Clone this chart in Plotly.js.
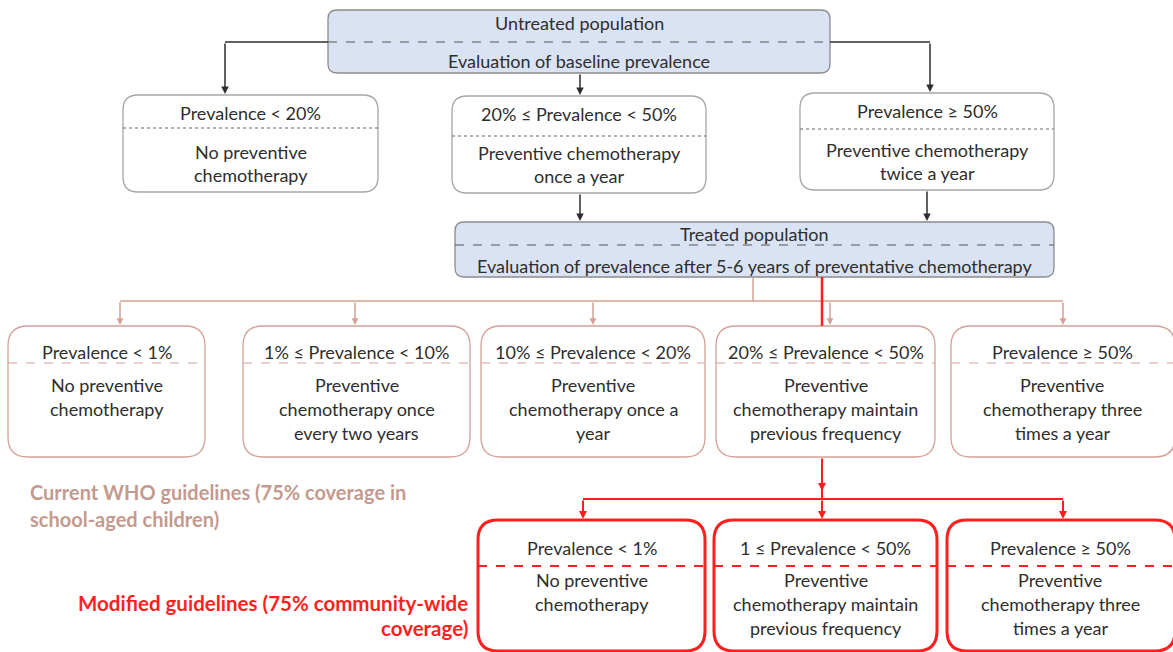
<!DOCTYPE html>
<html>
<head>
<meta charset="utf-8">
<script src="https://cdn.plot.ly/plotly-3.0.1.min.js"></script>
<style>html,body{margin:0;padding:0;background:#fff;}#chart{width:1173px;height:652px;}</style>
</head>
<body>
<div id="chart"></div>
<script>
// ---- content ----
const populationHeaders = ["Untreated population", "Treated population"];
const populationBodies = ["Evaluation of baseline prevalence", "Evaluation of prevalence after 5-6 years of preventative chemotherapy"];
const baselineHeaders = ["Prevalence < 20%", "20% ≤ Prevalence < 50%", "Prevalence ≥ 50%"];
const baselineActions = ["No preventive\nchemotherapy", "Preventive chemotherapy\nonce a year", "Preventive chemotherapy\ntwice a year"];
const whoHeaders = ["Prevalence < 1%", "1% ≤ Prevalence < 10%", "10% ≤ Prevalence < 20%", "20% ≤ Prevalence < 50%", "Prevalence ≥ 50%"];
const whoActions = ["No preventive\nchemotherapy", "Preventive\nchemotherapy once\nevery two years", "Preventive\nchemotherapy once a\nyear", "Preventive\nchemotherapy maintain\nprevious frequency", "Preventive\nchemotherapy three\ntimes a year"];
const modifiedHeaders = ["Prevalence < 1%", "1 ≤ Prevalence < 50%", "Prevalence ≥ 50%"];
const modifiedActions = ["No preventive\nchemotherapy", "Preventive\nchemotherapy maintain\nprevious frequency", "Preventive\nchemotherapy three\ntimes a year"];
const guidelineLabels = ["Current WHO guidelines (75% coverage in\nschool-aged children)", "Modified guidelines (75% community-wide\ncoverage)"];

// ---- geometry (layout only) ----
const FONT = "Lato, 'Open Sans', sans-serif";
const FS = 18;
const DARK = "#2e2e2e", GREY = "#8c8c8c", BLUE = "#dae3f3", ROSE = "#d4a196", ROSE_T = "#c49a8f", RED = "#ff1f1f";

const popGeom = [
  {x0:328,x1:830,y0:10,y1:73,sep:42,hy:23,by:61},
  {x0:455,x1:1054,y0:222,y1:277,sep:245,hy:234,by:266}
];
const baseGeom = [
  {x0:123,x1:378,y0:95,y1:192,sep:128,hy:113,by:152},
  {x0:452,x1:706,y0:96,y1:193,sep:136,hy:114,by:153},
  {x0:800,x1:1054,y0:93,y1:190,sep:129,hy:111,by:150}
];
const whoX = [[8,205],[243,470],[481,705],[716,935],[951,1175]];
const modX = [[478,705],[714,937],[947,1175]];

const shapes = [], annotations = [];

function rrect(x0,y0,x1,y1,r,line,fill){
  const p = `M${x0+r},${y0} L${x1-r},${y0} Q${x1},${y0} ${x1},${y0+r} L${x1},${y1-r} Q${x1},${y1} ${x1-r},${y1} L${x0+r},${y1} Q${x0},${y1} ${x0},${y1-r} L${x0},${y0+r} Q${x0},${y0} ${x0+r},${y0} Z`;
  shapes.push({type:'path',path:p,xref:'x',yref:'y',line:line,fillcolor:fill||'rgba(0,0,0,0)',layer:'below'});
}
function seg(x0,y0,x1,y1,color,w,dash){
  shapes.push({type:'line',xref:'x',yref:'y',x0:x0,y0:y0,x1:x1,y1:y1,line:{color:color,width:w,dash:dash||'solid'}});
}
function arrow(ax,ay,x,y,color,w,size){
  annotations.push({x:x,y:y,ax:ax,ay:ay,xref:'x',yref:'y',axref:'x',ayref:'y',text:'',showarrow:true,
    arrowhead:2,arrowsize:size||1,arrowwidth:w,arrowcolor:color,standoff:0,startstandoff:0});
}
function txt(x,y,s,opt){
  opt = opt||{};
  annotations.push({x:x,y:y,xref:'x',yref:'y',text:s,showarrow:false,xanchor:opt.xa||'center',yanchor:'middle',
    font:{family:FONT,size:opt.size||FS,color:opt.color||DARK}});
}
function lines(x,y,s,step,opt){
  s.split('\n').forEach((l,i)=>txt(x,y+i*step,opt&&opt.bold?'<b>'+l+'</b>':l,opt));
}

// population boxes
popGeom.forEach((g,i)=>{
  rrect(g.x0,g.y0,g.x1,g.y1,9,{color:GREY,width:1.3},BLUE);
  seg(g.x0,g.sep,g.x1,g.sep,'#555555',1.2,'dash');
  const cx=(g.x0+g.x1)/2;
  txt(cx,g.hy,populationHeaders[i]);
  txt(cx,g.by,populationBodies[i]);
});
// baseline boxes
baseGeom.forEach((g,i)=>{
  rrect(g.x0,g.y0,g.x1,g.y1,15,{color:'#a6a6a6',width:1.3},'#ffffff');
  seg(g.x0,g.sep,g.x1,g.sep,'#666666',1.2,'dot');
  const cx=(g.x0+g.x1)/2;
  txt(cx,g.hy,baselineHeaders[i]);
  lines(cx,g.by,baselineActions[i],23);
});
// WHO boxes
whoX.forEach((xx,i)=>{
  rrect(xx[0],326,xx[1],457,20,{color:ROSE,width:1.3},'#ffffff');
  seg(xx[0],363,xx[1],363,ROSE,1.2,'dash');
  const cx=(xx[0]+Math.min(xx[1],1173))/2;
  txt(cx,352,whoHeaders[i]);
  lines(cx,385,whoActions[i],24);
});
// modified boxes
modX.forEach((xx,i)=>{
  rrect(xx[0],520,xx[1],651,20,{color:RED,width:3},'#ffffff');
  seg(xx[0],566,xx[1],566,RED,2,'dash');
  const cx=(xx[0]+Math.min(xx[1],1173))/2;
  txt(cx,548,modifiedHeaders[i]);
  lines(cx,580,modifiedActions[i],24);
});

// black connectors
seg(328,42,225,42,DARK,1.5); arrow(225,42,225,94,DARK,1.5,1);
seg(830,42,930,42,DARK,1.5); arrow(930,42,930,92,DARK,1.5,1);
arrow(580,73,580,95,DARK,1.5,1);
arrow(580,193,580,221,DARK,1.5,1);
arrow(927,190,927,221,DARK,1.5,1);

// rose connectors
seg(753,277,753,301,ROSE,1.5);
seg(120,301,1063,301,ROSE,1.5);
[120,355,593,830,1063].forEach(x=>arrow(x,301,x,325,ROSE,1.5,0.9));

// red connectors
seg(822,277,822,326,RED,2.5);
arrow(822,457,822,491,RED,2,0.8);
seg(822,489,822,499,RED,2);
seg(583,499,1063,499,RED,2);
arrow(583,499,583,519,RED,2,0.8);
arrow(822,499,822,519,RED,2,0.8);
arrow(1063,499,1063,519,RED,2,0.8);

// guideline labels
lines(28,492,guidelineLabels[0],27,{xa:'left',color:ROSE_T,size:20,bold:true});
lines(470,603,guidelineLabels[1],25,{xa:'right',color:RED,size:20.5,bold:true});

const layout = {
  width:1173,height:652,margin:{l:0,r:0,t:0,b:0},
  paper_bgcolor:'#ffffff',plot_bgcolor:'#ffffff',
  xaxis:{range:[0,1173],visible:false,fixedrange:true},
  yaxis:{range:[652,0],visible:false,fixedrange:true},
  shapes:shapes,annotations:annotations,showlegend:false
};
Plotly.newPlot('chart',[],layout,{staticPlot:true,displayModeBar:false});
</script>
</body>
</html>
